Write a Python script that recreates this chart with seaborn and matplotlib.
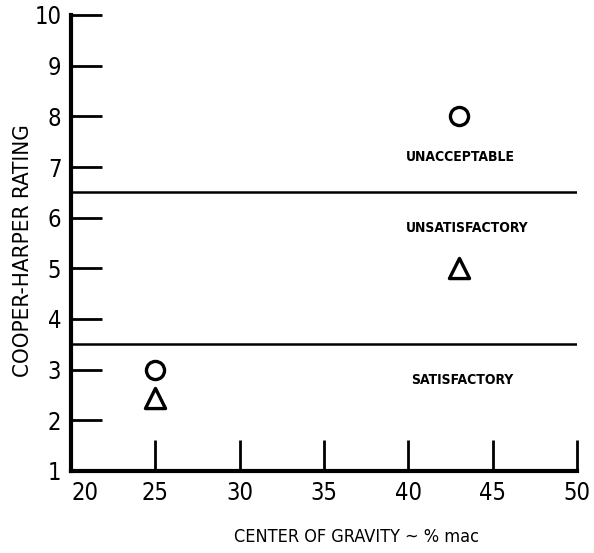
import matplotlib
matplotlib.use("Agg")
import matplotlib.pyplot as plt
import seaborn as sns
import pandas as pd

cg_circle = [25, 43]
rating_circle = [3, 8]
cg_triangle = [25, 43]
rating_triangle = [2.45, 5]
boundaries = [3.5, 6.5]
region_labels = ["UNACCEPTABLE", "UNSATISFACTORY", "SATISFACTORY"]
region_label_x = [43.1, 43.5, 43.2]
region_label_y = [7.2, 5.8, 2.8]
x_ticks = [20, 25, 30, 35, 40, 45, 50]
y_ticks = [1, 2, 3, 4, 5, 6, 7, 8, 9, 10]

sns.set_theme(style="ticks")
plt.rcParams['font.family'] = ['DejaVu Sans']
plt.rcParams['font.stretch'] = 'condensed'
plt.rcParams['text.color'] = 'black'

fig = plt.figure(figsize=(5.94, 5.53), dpi=100)
ax = fig.add_axes([71/594, 82/553, 506/594, 456/553])

df_c = pd.DataFrame({"cg": cg_circle, "rating": rating_circle})
df_t = pd.DataFrame({"cg": cg_triangle, "rating": rating_triangle})
sns.scatterplot(data=df_c, x="cg", y="rating", marker="o", s=170,
                facecolor="white", edgecolor="black", linewidth=2.4, ax=ax, zorder=3)
sns.scatterplot(data=df_t, x="cg", y="rating", marker="^", s=210,
                facecolor="white", edgecolor="black", linewidth=2.4, ax=ax, zorder=3)

for b in boundaries:
    ax.axhline(b, color="black", lw=1.8, xmin=0, xmax=1)

for t, x, y in zip(region_labels, region_label_x, region_label_y):
    ax.text(x, y, t, ha="center", va="center", fontsize=10, fontweight="bold",
            fontstretch="condensed", color="black")

ax.set_xlim(20, 50)
ax.set_ylim(1, 10)
ax.set_xticks(x_ticks)
ax.set_yticks(y_ticks)
ax.tick_params(direction="in", length=22, width=2, labelsize=17, colors="black", pad=7)
ax.get_xticklabels()[0].set_horizontalalignment("left")
for s in ["top", "right"]:
    ax.spines[s].set_visible(False)
for s in ["left", "bottom"]:
    ax.spines[s].set_linewidth(3)
    ax.spines[s].set_color("black")
ax.set_xlabel("CENTER OF GRAVITY ~ % mac", fontsize=13, color="black")
ax.set_ylabel("COOPER-HARPER RATING", fontsize=16, color="black")
ax.xaxis.set_label_coords((357 - 71) / 506, -(537 - 471) / 456)
ax.yaxis.set_label_coords(-(71 - 23) / 506, (471 - 251) / 456)
ax.xaxis.label.set_verticalalignment("center")
ax.yaxis.label.set_verticalalignment("center")
ax.set_facecolor("white")
fig.patch.set_facecolor("white")
fig.savefig("out.png", dpi=100)
